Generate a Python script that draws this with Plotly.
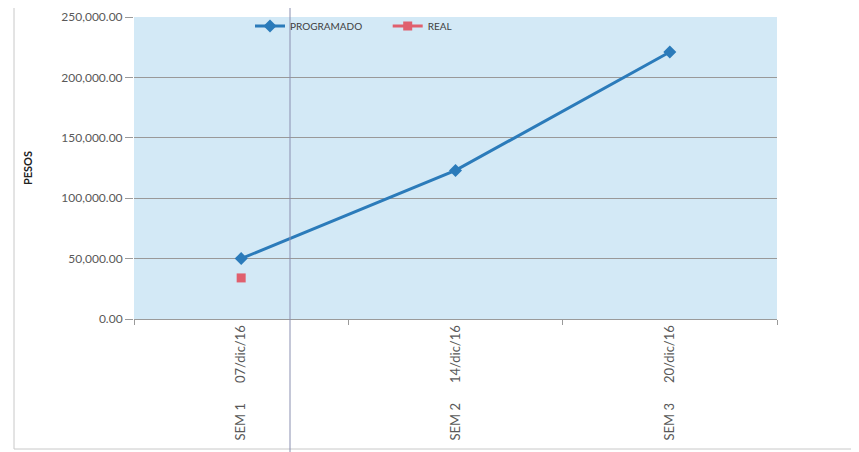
import plotly.graph_objects as go

sp = "\u00a0" * 6
categories = ["SEM 1" + sp + "07/dic/16", "SEM 2" + sp + "14/dic/16", "SEM 3" + sp + "20/dic/16"]
programado = [50000, 123000, 221000]
real = [34000, None, None]
y_ticks = [0, 50000, 100000, 150000, 200000, 250000]

# page body has an 8px margin; work in window pixels and convert
OFF = 8
WIN_W, WIN_H = 859, 452
W, H = WIN_W - OFF, WIN_H - OFF
PL, PR, PT, PB = 134, 777, 17, 319  # plot area in window pixels
L, T = PL - OFF, PT - OFF
R, B = W - (PR - OFF), H - (PB - OFF)
pw, ph = PR - PL, PB - PT

def px_x(px):
    return (px - PL) / pw

def px_y(py):
    return (PB - py) / ph

fig = go.Figure()
fig.add_trace(go.Scatter(
    x=categories, y=programado, name="PROGRAMADO" + "\u00a0" * 8, mode="lines+markers",
    line=dict(color="#2b7bba", width=3),
    marker=dict(symbol="diamond", size=10, color="#2b7bba"),
))
fig.add_trace(go.Scatter(
    x=categories, y=real, name="REAL", mode="lines+markers",
    line=dict(color="#e0606e", width=3),
    marker=dict(symbol="square", size=9, color="#e0606e"),
))

fig.update_layout(
    width=W, height=H,
    margin=dict(l=L, r=R, t=T, b=B, autoexpand=False),
    paper_bgcolor="white",
    plot_bgcolor="#d3e9f6",
    font=dict(family="Lato, Open Sans, sans-serif", color="#595959", size=12),
    showlegend=True,
    legend=dict(orientation="h", x=px_x(250), y=px_y(26), xanchor="left", yanchor="middle",
                bgcolor="rgba(0,0,0,0)", font=dict(size=10, color="#404040"),
                itemwidth=30, tracegroupgap=0),
    xaxis=dict(
        type="category", range=[-0.5, 2.5], tickangle=-90,
        showgrid=False, showline=True, linecolor="#9a9a9a", linewidth=1,
        ticks="outside", tickson="boundaries", ticklen=5, tickcolor="#9a9a9a",
        tickfont=dict(size=13, color="#595959"), ticklabeloverflow="allow",
    ),
    yaxis=dict(
        range=[0, 250000], tickvals=y_ticks, tickformat=",.2f",
        showgrid=True, gridcolor="#999999", gridwidth=1,
        zeroline=False, showline=False, ticks="outside", ticklen=8, tickcolor="#9a9a9a",
        title=dict(text="<b>PESOS</b>", font=dict(size=11, color="#222222"), standoff=26),
        tickfont=dict(size=12, color="#595959"), ticklabeloverflow="allow",
    ),
    shapes=[
        # outer chart frame
        dict(type="line", xref="paper", yref="paper", x0=px_x(14), x1=px_x(14), y0=px_y(8), y1=px_y(449),
             line=dict(color="#c8c8c8", width=1)),
        dict(type="line", xref="paper", yref="paper", x0=px_x(14), x1=px_x(857), y0=px_y(449), y1=px_y(449),
             line=dict(color="#c8c8c8", width=1)),
        dict(type="line", xref="paper", yref="paper", x0=px_x(857), x1=px_x(857), y0=px_y(8), y1=px_y(449),
             line=dict(color="#c8c8c8", width=1)),
        # scan artifact vertical line
        dict(type="line", xref="paper", yref="paper", x0=px_x(290), x1=px_x(290), y0=px_y(8), y1=px_y(452),
             line=dict(color="#8a8fb0", width=1)),
    ],
)

fig.write_html("out.html")
